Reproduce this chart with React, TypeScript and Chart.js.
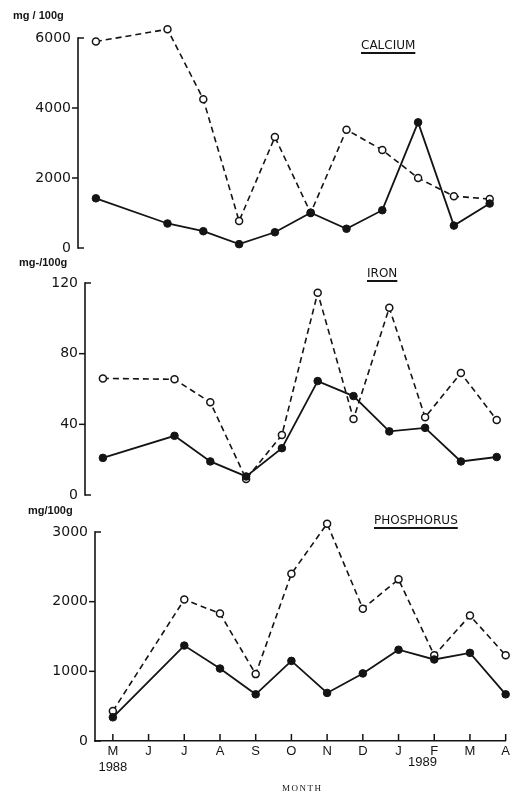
import React, { useEffect, useRef } from "react";
import { Chart, registerables } from "chart.js";

Chart.register(...registerables);

// ---------- data ----------
const monthLabels = ["M", "J", "J", "A", "S", "O", "N", "D", "J", "F", "M", "A"];
const firstYear = "1988";
const secondYear = "1989";
const sampleMonths = [0, 2, 3, 4, 5, 6, 7, 8, 9, 10, 11];

const calciumOpen = [5900, 6250, 4250, 770, 3170, 1000, 3380, 2800, 2000, 1480, 1400];
const calciumFilled = [1420, 700, 480, 110, 450, 1010, 550, 1080, 3590, 640, 1270];
const calciumTicks = [0, 2000, 4000, 6000];

const ironOpen = [66, 65.5, 52.5, 9, 34, 114.5, 43, 106, 44, 69, 42.5];
const ironFilled = [21, 33.5, 19, 10.5, 26.5, 64.5, 56, 36, 38, 19, 21.5];
const ironTicks = [0, 40, 80, 120];

const phosOpen = [430, 2030, 1830, 960, 2400, 3120, 1900, 2320, 1230, 1800, 1230];
const phosFilled = [340, 1370, 1040, 670, 1150, 690, 970, 1310, 1170, 1265, 670];
const phosTicks = [0, 1000, 2000, 3000];

// ---------- layout ----------
const W = 513;
const H = 795;
const MONTH_PX = 35.8;
const X_MIN = -0.5;
const X_MAX = 11;
const INK = "#141414";

type Panel = {
  open: number[];
  filled: number[];
  ticks: number[];
  headroom: number; // extra scale range above last tick so high markers are drawn
  axisX: number;
  top: number; // pixel of the last tick
  bottom: number; // pixel of zero
  showX: boolean;
};

const panels: Panel[] = [
  { open: calciumOpen, filled: calciumFilled, ticks: calciumTicks, headroom: 400, axisX: 78, top: 38, bottom: 248, showX: false },
  { open: ironOpen, filled: ironFilled, ticks: ironTicks, headroom: 8, axisX: 85, top: 283, bottom: 495, showX: false },
  { open: phosOpen, filled: phosFilled, ticks: phosTicks, headroom: 200, axisX: 95, top: 532, bottom: 741, showX: true },
];

const overlays = [
  { text: "mg / 100g", left: 13, top: 10, font: "bold 11px 'Liberation Sans', Arial, sans-serif", underline: false },
  { text: "mg-/100g", left: 19, top: 257, font: "bold 11px 'Liberation Sans', Arial, sans-serif", underline: false },
  { text: "mg/100g", left: 28, top: 505, font: "bold 11px 'Liberation Sans', Arial, sans-serif", underline: false },
  { text: "CALCIUM", left: 361, top: 39, font: "12px 'DejaVu Sans', sans-serif", underline: true },
  { text: "IRON", left: 367, top: 267, font: "12px 'DejaVu Sans', sans-serif", underline: true },
  { text: "PHOSPHORUS", left: 374, top: 514, font: "12px 'DejaVu Sans', sans-serif", underline: true },
  { text: secondYear, left: 408, top: 755, font: "13px 'Liberation Sans', Arial, sans-serif", underline: false },
  { text: "MONTH", left: 282, top: 784, font: "9px 'Liberation Serif', serif", underline: false },
];

const axisPlugin = {
  id: "axisStubs",
  afterDraw(chart: any) {
    const ctx = chart.ctx;
    const ys = chart.scales.y;
    const xs = chart.scales.x;
    const area = chart.chartArea;
    const ticks = ys.ticks;
    ctx.save();
    ctx.strokeStyle = INK;
    ctx.lineCap = "square";
    ctx.lineWidth = 1.6;
    ctx.beginPath();
    ctx.moveTo(area.left, ys.getPixelForValue(ticks[0].value));
    ctx.lineTo(area.left, ys.getPixelForValue(ticks[ticks.length - 1].value));
    ctx.stroke();
    ctx.lineCap = "butt";
    ctx.lineWidth = 1.5;
    ticks.forEach((t: any, i: number) => {
      const py = ys.getPixelForValue(t.value);
      const edge = i === 0 || i === ticks.length - 1;
      ctx.beginPath();
      if (edge) {
        ctx.moveTo(area.left, py);
        ctx.lineTo(area.left + 6, py);
      } else {
        ctx.moveTo(area.left - 6, py);
        ctx.lineTo(area.left, py);
      }
      ctx.stroke();
    });
    if (xs.options.display) {
      xs.ticks.forEach((t: any) => {
        const px = xs.getPixelForValue(t.value);
        ctx.beginPath();
        ctx.moveTo(px, area.bottom);
        ctx.lineTo(px, area.bottom - 7);
        ctx.stroke();
      });
    }
    ctx.restore();
  },
};

function PanelChart({ panel }: { panel: Panel }) {
  const ref = useRef<HTMLCanvasElement | null>(null);
  useEffect(() => {
    if (!ref.current) return;
    const rightEdge = panel.axisX + (X_MAX - X_MIN) * MONTH_PX;
    const xAxisHeight = panel.showX ? 40 : 0;
    const yMin = panel.ticks[0];
    const yTop = panel.ticks[panel.ticks.length - 1];
    const pxPerUnit = (panel.bottom - panel.top) / (yTop - yMin);
    const areaTop = panel.top - panel.headroom * pxPerUnit;
    const chart = new Chart(ref.current, {
      type: "line",
      data: {
        datasets: [
          {
            data: sampleMonths.map((m, i) => ({ x: m, y: panel.filled[i] })),
            borderColor: INK,
            borderWidth: 1.8,
            pointRadius: 3.8,
            pointBackgroundColor: INK,
            pointBorderColor: INK,
            pointBorderWidth: 1,
            tension: 0,
            clip: false,
          },
          {
            data: sampleMonths.map((m, i) => ({ x: m, y: panel.open[i] })),
            borderColor: INK,
            borderWidth: 1.6,
            borderDash: [6, 4],
            pointRadius: 3.5,
            pointBackgroundColor: "#ffffff",
            pointBorderColor: INK,
            pointBorderWidth: 1.5,
            tension: 0,
            clip: false,
          },
        ],
      },
      options: {
        responsive: false,
        animation: false,
        events: [],
        layout: {
          padding: {
            top: areaTop,
            left: 0,
            right: W - rightEdge,
            bottom: H - panel.bottom - xAxisHeight,
          },
        },
        plugins: { legend: { display: false }, tooltip: { enabled: false } },
        scales: {
          x: {
            type: "linear",
            min: X_MIN,
            max: X_MAX,
            display: panel.showX,
            grid: { display: false, drawTicks: false },
            border: { display: true, color: INK, width: 1.6 },
            afterBuildTicks: (s: any) => {
              s.ticks = monthLabels.map((_, i) => ({ value: i }));
            },
            afterFit: (s: any) => {
              s.height = xAxisHeight;
            },
            ticks: {
              autoSkip: false,
              maxRotation: 0,
              padding: 3,
              color: INK,
              font: { family: "'Liberation Sans', Arial, sans-serif", size: 13 },
              callback: (v: any) => {
                const i = Math.round(Number(v));
                const l = monthLabels[i] ?? "";
                return i === 0 ? [l, firstYear] : l;
              },
            },
          },
          y: {
            type: "linear",
            min: yMin,
            max: yTop + panel.headroom,
            grid: { display: false, drawTicks: false },
            border: { display: false },
            afterBuildTicks: (s: any) => {
              s.ticks = panel.ticks.map((v) => ({ value: v }));
            },
            afterFit: (s: any) => {
              s.width = panel.axisX;
            },
            ticks: {
              padding: 7,
              color: INK,
              font: { family: "'DejaVu Sans', sans-serif", size: 14 },
              callback: (v: any) => String(v),
            },
          },
        },
      },
      plugins: [axisPlugin],
    } as any);
    return () => chart.destroy();
  }, [panel]);
  return (
    <canvas
      ref={ref}
      width={W}
      height={H}
      style={{ position: "absolute", left: 0, top: 0, width: W, height: H }}
    />
  );
}

export default function App() {
  return (
    <div style={{ position: "absolute", left: 0, top: 0, width: W, height: H, background: "#fff", overflow: "hidden" }}>
      {panels.map((p, i) => (
        <PanelChart key={i} panel={p} />
      ))}
      {overlays.map((o, i) => (
        <div
          key={i}
          style={{
            position: "absolute",
            left: o.left,
            top: o.top,
            font: o.font,
            lineHeight: 1,
            color: INK,
            whiteSpace: "nowrap",
            letterSpacing: o.text === "MONTH" ? "1.5px" : undefined,
            textDecoration: o.underline ? "underline" : "none",
            textDecorationThickness: o.underline ? "1.5px" : undefined,
            textUnderlineOffset: o.underline ? "3px" : undefined,
          }}
        >
          {o.text}
        </div>
      ))}
    </div>
  );
}
